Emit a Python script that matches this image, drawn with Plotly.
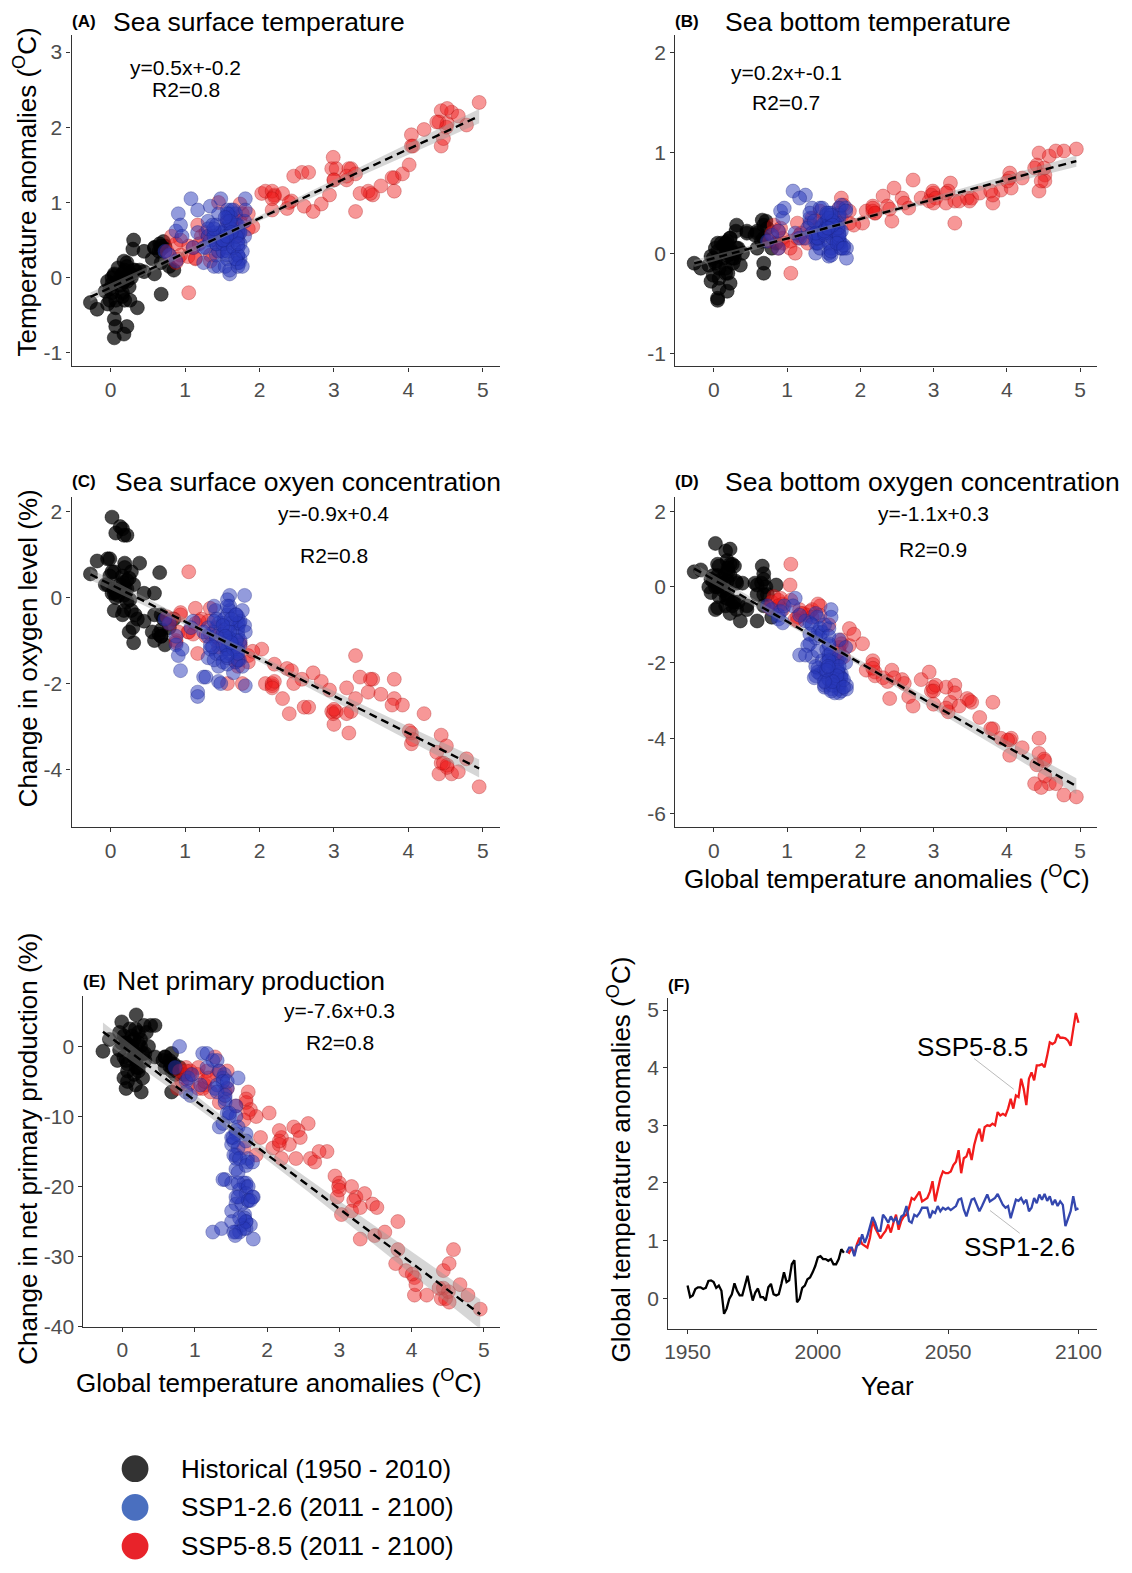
import numpy as np
import plotly.graph_objects as go

W, H = 1132, 1573

# ---------------- data ----------------
years_hist = list(range(1950, 2011))
years_ssp = list(range(2011, 2101))

# global temperature anomalies (panel F and x of scatter panels)
gta_hist = [0.22, 0.02, 0.05, 0.16, 0.19, 0.19, 0.16, 0.18, 0.30, 0.31,
            0.28, 0.18, 0.22, 0.13, -0.27, -0.18, -0.01, 0.07, 0.26, 0.13,
            0.05, 0.05, 0.22, 0.39, 0.16, -0.04, 0.10, 0.17, 0.02, 0.02,
            -0.04, 0.19, 0.25, 0.07, 0.05, 0.07, 0.25, 0.45, 0.28, 0.31,
            0.59, 0.66, -0.07, -0.01, 0.18, 0.22, 0.33, 0.36, 0.45, 0.56,
            0.71, 0.73, 0.68, 0.68, 0.65, 0.68, 0.59, 0.59, 0.68, 0.85,
            0.79]
gta_ssp126 = [0.79, 0.88, 0.88, 0.73, 0.91, 0.94, 1.11, 0.96, 1.08, 1.25,
              1.41, 1.31, 1.17, 1.17, 1.45, 1.39, 1.31, 1.42, 1.34, 1.39,
              1.28, 1.42, 1.45, 1.60, 1.34, 1.31, 1.45, 1.42, 1.48, 1.57,
              1.57, 1.57, 1.39, 1.51, 1.48, 1.60, 1.51, 1.57, 1.54, 1.57,
              1.53, 1.57, 1.60, 1.71, 1.73, 1.54, 1.42, 1.57, 1.71, 1.73,
              1.62, 1.51, 1.60, 1.71, 1.80, 1.68, 1.71, 1.74, 1.81, 1.71,
              1.62, 1.57, 1.60, 1.39, 1.57, 1.71, 1.69, 1.74, 1.65, 1.71,
              1.51, 1.57, 1.74, 1.65, 1.80, 1.71, 1.81, 1.69, 1.77, 1.62,
              1.71, 1.60, 1.68, 1.62, 1.25, 1.37, 1.51, 1.77, 1.54, 1.56]
gta_ssp585 = [0.82, 0.79, 0.88, 0.76, 0.94, 1.05, 0.94, 0.91, 0.88, 1.05,
              1.34, 1.22, 1.14, 1.04, 1.11, 1.17, 1.28, 1.14, 1.31, 1.45,
              1.19, 1.34, 1.42, 1.45, 1.57, 1.74, 1.71, 1.77, 1.85, 1.68,
              1.71, 1.74, 1.85, 2.03, 1.68, 1.91, 2.08, 2.20, 2.17, 2.17,
              2.20, 2.31, 2.37, 2.57, 2.17, 2.43, 2.46, 2.60, 2.40, 2.66,
              2.83, 2.94, 2.72, 2.97, 3.00, 2.99, 3.03, 3.00, 3.23, 3.17,
              3.20, 3.17, 3.29, 3.46, 3.29, 3.52, 3.49, 3.81, 3.63, 3.35,
              3.81, 3.92, 3.78, 4.04, 4.04, 4.06, 4.01, 4.21, 4.44, 4.41,
              4.44, 4.58, 4.52, 4.52, 4.51, 4.47, 4.38, 4.67, 4.95, 4.78]

# (A) sea surface temperature anomalies
sst_hist = [-0.05, -0.2, -0.55, 0.05, -0.3, 0.1, -0.2, -0.75, 0.38, 0.1,
            0.05, 0.22, -0.65, -0.1, -0.33, -0.42, -0.15, -0.4, -0.3, 0.0,
            0.03, -0.8, 0.15, 0.1, -0.25, -0.05, 0.13, -0.05, 0.0, -0.08,
            -0.35, 0.0, -0.12, -0.65, 0.05, -0.3, 0.05, 0.08, 0.0, 0.5,
            0.4, 0.45, -0.18, -0.3, -0.05, 0.2, 0.1, -0.4, 0.35, 0.25,
            0.48, 0.42, -0.22, 0.2, 0.35, 0.38, 0.05, 0.4, 0.42, 0.1,
            0.15]
sst_ssp126 = [0.3, 0.22, 0.62, 0.35, 0.85, 0.7, 0.4, 0.55, 1.05, 0.2,
              0.5, 0.75, 0.9, 0.6, 0.35, 0.15, 0.55, 0.45, 0.95, 0.6,
              0.4, 0.7, 0.15, 0.05, 0.5, 0.65, 0.85, 0.3, 0.6, 0.45,
              0.25, 0.8, 0.55, 0.35, 1.05, 0.7, 0.6, 0.9, 0.15, 0.4,
              0.55, 0.3, 0.85, 0.5, 0.2, 0.65, 0.45, 0.75, 0.3, 0.6,
              0.9, 0.45, 0.1, 0.7, 0.55, 0.85, 0.4, 0.25, 1.05, 0.6,
              0.8, 0.35, 0.55, 0.65, 0.5, 0.15, 0.7, 0.45, 0.9, 0.3,
              0.5, 0.85, 0.6, 0.4, 0.75, 0.2, 0.9, 0.55, 0.35, 0.65,
              0.45, 0.75, 0.25, 0.6, 0.4, 0.7, 0.5, 0.15, 0.8, 0.55]
sst_ssp585 = [0.55, 0.3, 0.2, 0.35, 0.3, -0.2, 0.5, 0.25, 0.45, 0.42,
              0.3, 0.55, 0.25, 0.28, 0.4, 0.7, 0.6, 0.26, 0.55, 1.0,
              0.45, 0.22, 0.5, 0.35, 0.75, 0.98, 0.65, 0.85, 0.65, 0.8,
              0.55, 0.75, 0.85, 1.12, 0.6, 0.68, 1.15, 1.1, 0.9, 1.15,
              1.08, 1.12, 0.92, 1.4, 1.05, 1.02, 1.35, 0.95, 1.0, 1.4,
              0.98, 1.1, 0.88, 1.45, 1.3, 1.6, 1.45, 1.3, 1.45, 1.3,
              1.45, 1.35, 0.88, 1.15, 1.38, 1.1, 1.12, 1.15, 1.22, 1.12,
              1.33, 1.38, 1.33, 1.9, 1.75, 1.75, 1.5, 1.97, 2.22, 2.07,
              1.75, 2.2, 2.25, 2.05, 2.0, 1.85, 2.07, 2.15, 2.33, 2.03]

# (B) sea bottom temperature anomalies
sbt_hist = [0.05, -0.1, -0.45, 0.1, -0.2, 0.0, -0.15, -0.38, 0.22, 0.05,
            0.0, 0.12, -0.3, -0.05, -0.1, -0.15, -0.05, -0.25, -0.1, 0.08,
            0.02, -0.47, 0.15, 0.0, -0.2, -0.03, 0.1, 0.02, 0.05, -0.08,
            -0.28, 0.05, -0.05, -0.35, 0.1, -0.15, 0.0, 0.2, -0.05, 0.28,
            0.2, 0.33, -0.12, -0.22, -0.02, 0.15, 0.05, -0.12, 0.22, 0.18,
            0.32, 0.25, -0.1, 0.15, 0.12, 0.28, 0.05, 0.22, -0.2, 0.1,
            0.05]
sbt_ssp126 = [0.18, 0.22, 0.05, 0.12, 0.42, 0.35, 0.2, 0.45, 0.62, 0.58,
              0.1, 0.3, 0.15, 0.55, 0.25, 0.0, 0.35, 0.2, 0.45, 0.1,
              0.25, 0.15, 0.05, 0.3, 0.2, 0.4, 0.45, 0.1, 0.28, 0.2,
              0.0, 0.35, 0.15, 0.22, 0.45, 0.05, 0.3, 0.12, 0.38, -0.03,
              0.25, 0.1, 0.4, 0.2, 0.05, 0.32, 0.15, 0.28, 0.45, 0.1,
              0.3, 0.18, -0.02, 0.25, 0.45, 0.12, 0.35, 0.22, 0.05, 0.38,
              0.15, 0.28, 0.02, 0.2, 0.4, 0.1, 0.3, 0.48, 0.22, 0.12,
              0.2, 0.35, 0.05, 0.3, 0.42, 0.15, -0.05, 0.25, 0.08, 0.32,
              0.18, 0.38, 0.1, 0.28, 0.15, 0.32, 0.22, 0.05, 0.4, 0.25]
sbt_ssp585 = [0.28, 0.2, 0.05, 0.12, 0.15, -0.2, 0.1, 0.25, 0.22, 0.12,
              0.2, 0.15, 0.3, 0.05, 0.0, 0.18, 0.1, 0.15, 0.28, 0.32,
              0.2, 0.35, 0.15, 0.42, 0.25, 0.55, 0.4, 0.48, 0.42, 0.3,
              0.45, 0.35, 0.3, 0.3, 0.2, 0.28, 0.42, 0.4, 0.47, 0.42,
              0.4, 0.57, 0.47, 0.55, 0.45, 0.32, 0.65, 0.5, 0.44, 0.45,
              0.55, 0.52, 0.73, 0.58, 0.6, 0.62, 0.55, 0.5, 0.7, 0.5,
              0.62, 0.6, 0.3, 0.55, 0.52, 0.55, 0.52, 0.5, 0.6, 0.52,
              0.58, 0.63, 0.62, 0.8, 0.75, 0.65, 0.72, 0.75, 1.0, 0.88,
              0.62, 0.97, 0.78, 0.72, 0.85, 0.72, 0.85, 1.02, 1.04, 1.02]

# (C) sea surface oxygen change (%)
sso_hist = [0.4, 1.87, 0.1, 1.6, 0.2, 0.8, 0.5, 1.45, -0.7, 0.3,
            0.6, 0.05, 1.45, 1.65, 0.55, 0.85, 0.9, 1.5, -0.05, 0.3,
            -0.3, 0.6, 0.2, 0.8, -0.4, 0.9, 0.05, 0.35, 0.1, 0.6,
            0.3, 0.7, -0.8, 0.0, 0.2, 0.15, 0.45, 0.1, -0.3, -1.05,
            -0.4, 0.58, 0.3, 0.5, -0.3, -0.1, -0.4, -0.5, -0.55, -0.8,
            -0.5, -1.1, -0.75, -0.9, -0.85, -0.4, 0.1, -1.0, -0.9, -0.5,
            -0.7]
sso_ssp126 = [-0.6, -1.1, -0.9, -0.5, -1.35, -1.7, -0.55, -1.2, -0.7, -1.85,
              -0.3, -0.9, -2.2, -2.3, -0.6, -0.2, -1.4, -1.0, -1.2, -0.8,
              -1.85, -1.3, -1.95, 0.05, -1.1, -0.7, -1.6, -0.5, -2.0, -1.2,
              -0.4, -0.9, -1.45, -0.6, -1.3, -0.2, -1.5, -1.0, -0.75, -1.55,
              -0.5, -1.2, -0.3, -0.8, -1.45, -1.1, -0.9, -0.05, -1.2, -0.6,
              -1.0, -0.85, -1.3, -0.45, 0.05, -1.5, -0.7, -1.1, -2.05, -0.9,
              -0.6, -1.4, -0.95, -0.55, -0.2, -1.25, -0.4, -1.0, -1.75, -0.6,
              -1.1, -0.7, -0.55, -1.2, -0.65, -1.45, -0.8, -1.0, -0.3, -0.5,
              -1.3, -0.8, -0.4, -1.05, -0.8, -1.15, -0.65, -1.6, -0.9, -1.35]
sso_ssp585 = [-0.5, -0.6, -1.0, -0.45, -0.4, 0.6, -0.35, -0.8, -1.05, -0.8,
              -0.25, -0.5, -0.25, -0.8, -0.85, -1.3, -0.9, -0.6, -0.55, -0.95,
              -0.55, -0.85, -0.7, -1.15, -2.0, -1.1, -1.6, -2.0, -1.35, -1.5,
              -1.45, -1.05, -1.5, -1.2, -1.15, -1.25, -2.0, -1.55, -2.05, -2.0,
              -1.95, -2.35, -1.65, -1.9, -2.1, -1.7, -2.0, -2.55, -2.7, -2.55,
              -1.95, -2.15, -1.75, -2.65, -2.95, -2.7, -2.65, -2.6, -2.65, -2.1,
              -3.15, -2.7, -1.35, -2.2, -2.35, -1.9, -1.9, -1.9, -2.25, -1.85,
              -2.35, -2.5, -2.5, -3.15, -3.4, -3.3, -3.1, -2.7, -3.85, -4.1,
              -3.2, -4.1, -3.9, -3.95, -3.45, -3.85, -3.6, -4.05, -4.4, -3.75]

# (D) sea bottom oxygen change (%)
sbo_hist = [0.3, 1.15, 0.0, 0.95, -0.3, 0.5, -0.5, 0.7, 0.15, -0.6,
            0.55, -0.2, 1.0, 0.1, 0.4, 0.45, 0.15, 0.55, -0.4, -0.1,
            -0.55, 0.3, -0.7, 0.1, 0.35, -0.15, 0.2, -0.3, 0.0, -0.6,
            0.2, 0.4, -0.5, -0.25, 0.6, 0.05, 0.6, -0.6, -0.4, 0.1,
            -0.2, 0.55, 0.0, 0.3, 0.15, 0.6, -0.4, -0.9, -0.5, 0.1,
            0.0, -0.2, 0.35, -0.2, 0.1, -0.5, -0.9, 0.05, 0.2, 0.05,
            -0.8]
sbo_ssp126 = [-0.6, -0.75, -0.85, -0.5, -0.65, -0.95, -0.3, -0.5, -0.5, -0.9,
              -0.8, -0.95, -0.75, -1.8, -1.1, -0.7, -1.5, -1.2, -1.0, -1.35,
              -1.55, -2.15, -1.3, -0.6, -1.85, -1.25, -2.3, -1.7, -1.2, -1.55,
              -1.1, -1.9, -2.35, -1.0, -1.95, -0.8, -2.2, -1.3, -1.65, -2.45,
              -2.55, -1.8, -2.1, -1.4, -2.4, -2.0, -2.25, -1.5, -2.7, -1.9,
              -2.35, -2.65, -1.75, -2.5, -1.6, -2.1, -2.8, -2.3, -2.6, -1.85,
              -2.0, -2.45, -2.7, -2.1, -1.95, -2.6, -2.2, -2.75, -2.5, -2.3,
              -2.6, -2.15, -2.4, -2.8, -2.0, -2.55, -2.7, -2.25, -2.45, -2.6,
              -2.1, -2.75, -2.35, -2.5, -1.8, -2.4, -2.5, -2.65, -2.2, -2.1]
sbo_ssp585 = [-0.25, -0.4, -0.35, -0.55, -0.6, 0.6, -0.45, -0.3, -0.5, -0.35,
              -0.6, -0.7, -0.8, 0.05, -0.85, -0.6, -0.75, -0.9, -0.65, -0.5,
              -0.7, -0.8, -0.45, -0.75, -1.0, -1.4, -1.6, -1.85, -1.1, -1.95,
              -1.7, -1.5, -1.55, -1.5, -1.8, -1.25, -2.2, -2.25, -1.95, -2.05,
              -2.35, -2.4, -2.5, -2.45, -2.15, -2.2, -2.4, -2.55, -2.95, -2.9,
              -2.45, -2.25, -3.15, -2.75, -3.1, -2.65, -2.6, -2.75, -3.05, -2.65,
              -3.3, -3.2, -2.6, -2.95, -2.8, -3.05, -3.0, -3.05, -3.45, -3.15,
              -3.75, -4.0, -3.75, -4.05, -4.45, -4.0, -4.05, -4.25, -4.0, -4.7,
              -4.4, -5.2, -4.6, -5.0, -4.55, -5.3, -5.2, -5.2, -5.55, -5.5]

# (E) net primary production change (%)
npp_hist = [2.0, -4.5, 0.5, -1.5, 4.5, -3.0, 1.0, -5.5, 3.0, -2.0,
            -1.0, 2.5, -3.5, 0.0, -0.7, 1.0, 3.5, -2.5, -6.5, 1.5,
            -2.0, -6.0, 0.5, 3.0, -4.0, -0.5, 2.5, -1.0, 1.5, -1.5,
            2.0, -2.0, 0.0, -3.5, 0.5, -5.0, 1.0, 3.0, -4.5, -1.0,
            -1.5, -3.0, -2.0, 0.5, -1.0, -3.0, 2.0, 0.0, -1.5, -2.0,
            -2.5, -4.0, -1.0, -6.5, -2.0, -3.5, -3.0, -1.5, -2.5, -4.0,
            -3.0]
npp_ssp126 = [0.0, -5.0, -6.5, -3.0, -4.5, -7.0, -1.0, -4.0, -5.5, -2.0,
              -4.0, -5.5, -1.0, -3.0, -6.0, -4.5, -2.0, -7.5, -3.5, -5.0,
              -6.0, -8.0, -5.0, -4.5, -11.5, -6.5, -9.5, -7.0, -10.0, -8.5,
              -10.0, -12.5, -11.0, -13.0, -9.5, -11.5, -14.0, -12.0, -13.5, -15.5,
              -13.0, -16.0, -14.5, -12.5, -16.0, -15.5, -19.0, -17.5, -13.5, -16.5,
              -16.0, -19.5, -18.0, -17.0, -16.5, -19.5, -20.0, -22.0, -21.5, -19.5,
              -20.5, -21.5, -19.5, -19.0, -22.5, -21.0, -24.0, -20.0, -22.5, -25.0,
              -23.5, -26.5, -22.0, -25.5, -21.5, -26.0, -27.5, -24.5, -25.5, -26.5,
              -25.0, -21.5, -26.0, -24.5, -26.5, -26.0, -25.0, -22.0, -26.5, -27.0]
npp_ssp585 = [-5.0, -3.5, -3.0, -6.0, -3.5, -3.0, -4.0, -5.5, -3.5, -6.0,
              -3.5, -6.5, -5.5, -4.0, -6.0, -3.5, -1.5, -5.0, -4.0, -3.5,
              -4.5, -8.0, -6.5, -6.0, -8.5, -6.5, -8.0, -9.0, -10.0, -14.5,
              -7.5, -9.5, -15.5, -9.5, -10.5, -13.0, -14.5, -13.0, -14.0, -12.0,
              -16.0, -14.0, -11.5, -11.0, -13.5, -12.0, -13.0, -16.0, -16.0, -16.5,
              -15.0, -18.5, -15.0, -21.5, -19.5, -20.0, -24.0, -20.5, -21.5, -20.0,
              -22.0, -23.5, -27.5, -22.5, -23.0, -23.0, -27.0, -25.0, -26.5, -21.0,
              -29.0, -32.0, -31.0, -33.0, -35.5, -34.0, -32.5, -35.5, -34.5, -36.0,
              -32.0, -29.0, -31.0, -36.5, -35.0, -36.0, -34.5, -34.0, -37.5, -35.5]

eq_labels = {
    "A": ("y=0.5x+-0.2", "R2=0.8"),
    "B": ("y=0.2x+-0.1", "R2=0.7"),
    "C": ("y=-0.9x+0.4", "R2=0.8"),
    "D": ("y=-1.1x+0.3", "R2=0.9"),
    "E": ("y=-7.6x+0.3", "R2=0.8"),
}
panel_titles = {
    "A": "Sea surface temperature",
    "B": "Sea bottom temperature",
    "C": "Sea surface oxyen concentration",
    "D": "Sea bottom oxygen concentration",
    "E": "Net primary production",
    "F": "",
}
legend_labels = ["Historical (1950 - 2010)", "SSP1-2.6 (2011 - 2100)", "SSP5-8.5 (2011 - 2100)"]

for arr in [sst_hist, sbt_hist, sso_hist, sbo_hist, npp_hist]:
    assert len(arr) == len(gta_hist)
for arr in [sst_ssp126, sbt_ssp126, sso_ssp126, sbo_ssp126, npp_ssp126,
            sst_ssp585, sbt_ssp585, sso_ssp585, sbo_ssp585, npp_ssp585]:
    assert len(arr) == 90
assert len(gta_ssp126) == 90 and len(gta_ssp585) == 90

# ---------------- styling / layout ----------------
FONT = "Liberation Sans, Arial, sans-serif"
COL_H = "rgba(0,0,0,0.72)"
COL_1 = "rgba(40,55,185,0.5)"
COL_5 = "rgba(238,25,25,0.45)"
LINE_H = "rgba(0,0,0,0.8)"
LINE_1 = "rgba(25,35,130,0.55)"
LINE_5 = "rgba(160,10,10,0.5)"
MSIZE = 14


def px(x):
    return x / W


def py(y):
    return 1 - y / H


panels = [
    dict(key="A", box=(68, 500, 35, 369), xr=[-0.524, 5.236], yr=[-1.18, 3.23],
         yt=[-1, 0, 1, 2, 3], data=(sst_hist, sst_ssp126, sst_ssp585),
         lab=(66, 22), title_x=108, eq=(183, 68, 90)),
    dict(key="B", box=(676, 1101, 35, 369), xr=[-0.529, 5.235], yr=[-1.13, 2.18],
         yt=[-1, 0, 1, 2], data=(sbt_hist, sbt_ssp126, sbt_ssp585),
         lab=(674, 22), title_x=724, eq=(788, 73, 103)),
    dict(key="C", box=(68, 500, 500, 833), xr=[-0.524, 5.236], yr=[-5.34, 2.35],
         yt=[-4, -2, 0, 2], data=(sso_hist, sso_ssp126, sso_ssp585),
         lab=(66, 485), title_x=110, eq=(332, 517, 559)),
    dict(key="D", box=(676, 1101, 500, 833), xr=[-0.529, 5.235], yr=[-6.35, 2.39],
         yt=[-6, -4, -2, 0, 2], data=(sbo_hist, sbo_ssp126, sbo_ssp585),
         lab=(674, 485), title_x=724, eq=(936, 517, 553)),
    dict(key="E", box=(80, 500, 1003, 1336), xr=[-0.54, 5.23], yr=[-40, 7.2],
         yt=[-40, -30, -20, -10, 0], data=(npp_hist, npp_ssp126, npp_ssp585),
         lab=(78, 988), title_x=112, eq=(338, 1018, 1050)),
    dict(key="F", box=(669, 1101, 1005, 1338), xr=[1942.6, 2107.2], yr=[-0.527, 5.21],
         yt=[0, 1, 2, 3, 4, 5], data=None, lab=(667, 992), title_x=None, eq=None),
]

fig = go.Figure()
layout = dict(width=W, height=H, margin=dict(l=0, r=0, t=0, b=0),
              plot_bgcolor="white", paper_bgcolor="white", showlegend=False,
              font=dict(family=FONT, color="black"))
annotations = []
shapes = []

axis_common = dict(showline=True, linecolor="#333333", linewidth=1.3, ticks="outside",
                   ticklen=4, tickwidth=1.2, tickcolor="#333333", showgrid=False,
                   zeroline=False, tickfont=dict(family=FONT, size=21, color="#4D4D4D"))


def fit_band(x, y, n_pts=100):
    x = np.asarray(x, float)
    y = np.asarray(y, float)
    b, a = np.polyfit(x, y, 1)
    xs = np.linspace(x.min(), x.max(), n_pts)
    yhat = a + b * xs
    n = len(x)
    resid = y - (a + b * x)
    s = np.sqrt(np.sum(resid ** 2) / (n - 2))
    sxx = np.sum((x - x.mean()) ** 2)
    se = s * np.sqrt(1.0 / n + (xs - x.mean()) ** 2 / sxx)
    t = 1.97
    return xs, yhat, yhat - t * se, yhat + t * se


for i, p in enumerate(panels, start=1):
    xa = "xaxis" if i == 1 else f"xaxis{i}"
    ya = "yaxis" if i == 1 else f"yaxis{i}"
    xref = "x" if i == 1 else f"x{i}"
    yref = "y" if i == 1 else f"y{i}"
    x0, x1, y0, y1 = p["box"]
    if p["key"] == "F":
        xt = [1950, 2000, 2050, 2100]
    else:
        xt = [0, 1, 2, 3, 4, 5]
    layout[xa] = dict(axis_common, domain=[px(x0), px(x1)], range=p["xr"], anchor=yref,
                      tickvals=xt, ticktext=[str(v) for v in xt])
    layout[ya] = dict(axis_common, domain=[py(y1), py(y0)], range=p["yr"], anchor=xref,
                      tickvals=p["yt"], ticktext=[str(v) for v in p["yt"]])

    if p["data"] is not None:
        yh, y1s, y5s = p["data"]
        fig.add_trace(go.Scatter(x=gta_hist, y=yh, mode="markers", xaxis=xref, yaxis=yref,
                                 marker=dict(size=MSIZE, color=COL_H, line=dict(color=LINE_H, width=0.6))))
        fig.add_trace(go.Scatter(x=gta_ssp585, y=y5s, mode="markers", xaxis=xref, yaxis=yref,
                                 marker=dict(size=MSIZE, color=COL_5, line=dict(color=LINE_5, width=0.6))))
        fig.add_trace(go.Scatter(x=gta_ssp126, y=y1s, mode="markers", xaxis=xref, yaxis=yref,
                                 marker=dict(size=MSIZE, color=COL_1, line=dict(color=LINE_1, width=0.6))))
        allx = gta_hist + gta_ssp126 + gta_ssp585
        ally = list(yh) + list(y1s) + list(y5s)
        xs, yhat, lo, hi = fit_band(allx, ally)
        fig.add_trace(go.Scatter(x=np.concatenate([xs, xs[::-1]]), y=np.concatenate([hi, lo[::-1]]),
                                 mode="lines", fill="toself", fillcolor="rgba(153,153,153,0.4)",
                                 line=dict(width=0), xaxis=xref, yaxis=yref, hoverinfo="skip"))
        fig.add_trace(go.Scatter(x=xs, y=yhat, mode="lines", xaxis=xref, yaxis=yref,
                                 line=dict(color="black", width=2.4, dash="8px,5px")))
        ex, ey1, ey2 = p["eq"]
        annotations.append(dict(x=px(ex), y=py(ey1), xref="paper", yref="paper", text=eq_labels[p["key"]][0],
                                showarrow=False, xanchor="center", yanchor="middle",
                                font=dict(family=FONT, size=21, color="black")))
        annotations.append(dict(x=px(ex), y=py(ey2), xref="paper", yref="paper", text=eq_labels[p["key"]][1],
                                showarrow=False, xanchor="center", yanchor="middle",
                                font=dict(family=FONT, size=21, color="black")))
    else:
        fig.add_trace(go.Scatter(x=years_hist, y=gta_hist, mode="lines", xaxis=xref, yaxis=yref,
                                 line=dict(color="black", width=2.3)))
        fig.add_trace(go.Scatter(x=years_ssp, y=gta_ssp585, mode="lines", xaxis=xref, yaxis=yref,
                                 line=dict(color="#F21B1B", width=2.3)))
        fig.add_trace(go.Scatter(x=years_ssp, y=gta_ssp126, mode="lines", xaxis=xref, yaxis=yref,
                                 line=dict(color="#3447AE", width=2.3)))

    # panel letters and titles
    lx, ly = p["lab"]
    annotations.append(dict(x=px(lx), y=py(ly), xref="paper", yref="paper", text=f"<b>({p['key']})</b>",
                            showarrow=False, xanchor="left", yanchor="middle",
                            font=dict(family=FONT, size=17, color="black")))
    if p["title_x"] is not None:
        annotations.append(dict(x=px(p["title_x"]), y=py(ly), xref="paper", yref="paper",
                                text=panel_titles[p["key"]], showarrow=False, xanchor="left",
                                yanchor="middle", font=dict(family=FONT, size=26.5, color="black")))

# axis titles
DEG = "(<sup>O</sup>C)"
ax_titles = [
    ("Temperature anomalies " + DEG, 22, 193, -90),
    ("Change in oxygen level (%)", 25, 653, -90),
    ("Change in net primary production (%)", 24, 1157, -90),
    ("Global temperature anomalies " + DEG, 620, 1168, -90),
    ("Global temperature anomalies " + DEG, 889, 884, 0),
    ("Global temperature anomalies " + DEG, 277, 1391, 0),
    ("Year", 890, 1396, 0),
]
for txt, x, y, ang in ax_titles:
    annotations.append(dict(x=px(x), y=py(y), xref="paper", yref="paper", text=txt, showarrow=False,
                            xanchor="center", yanchor="middle", textangle=ang,
                            font=dict(family=FONT, size=26, color="black")))

# scenario labels in panel F
annotations.append(dict(x=px(975), y=py(1054), xref="paper", yref="paper", text="SSP5-8.5", showarrow=False,
                        xanchor="center", yanchor="middle", font=dict(family=FONT, size=26, color="black")))
annotations.append(dict(x=px(1023), y=py(1256), xref="paper", yref="paper", text="SSP1-2.6", showarrow=False,
                        xanchor="center", yanchor="middle", font=dict(family=FONT, size=26, color="black")))
shapes.append(dict(type="line", xref="paper", yref="paper", x0=px(977), y0=py(1066), x1=px(1017), y1=py(1097),
                   line=dict(color="#BBBBBB", width=1)))
shapes.append(dict(type="line", xref="paper", yref="paper", x0=px(993), y0=py(1219), x1=px(1023), y1=py(1242),
                   line=dict(color="#BBBBBB", width=1)))

# legend (manual)
leg_cols = ["#333333", "#4A6FBF", "#E8232A"]
leg_y = [1479, 1518, 1557]
for lab, c, yy in zip(legend_labels, leg_cols, leg_y):
    r = 13.5
    shapes.append(dict(type="circle", xref="paper", yref="paper", x0=px(132 - r), x1=px(132 + r),
                       y0=py(yy + r), y1=py(yy - r), fillcolor=c, line=dict(width=0)))
    annotations.append(dict(x=px(176), y=py(yy), xref="paper", yref="paper", text=lab, showarrow=False,
                            xanchor="left", yanchor="middle", font=dict(family=FONT, size=26, color="black")))

layout["annotations"] = annotations
layout["shapes"] = shapes
fig.update_layout(**layout)
fig.write_html("out.html")
